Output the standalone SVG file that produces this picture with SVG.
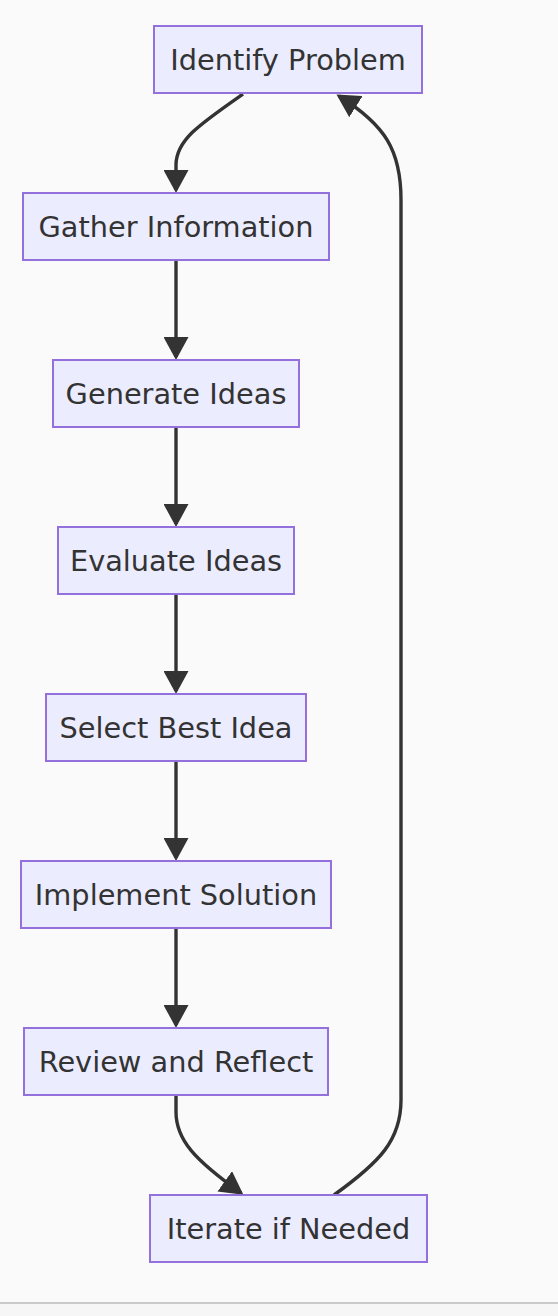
<svg xmlns="http://www.w3.org/2000/svg" width="558" height="1316" viewBox="0 0 558 1316">
<style>
.node rect{fill:#ECECFF;stroke:#9370DB;stroke-width:2}
.node text{font-family:"DejaVu Sans",Verdana,sans-serif;font-size:28.8px;fill:#333333;text-anchor:middle}
.edge{fill:none;stroke:#333333;stroke-width:3.4}
</style>
<defs>
<marker id="arrow" viewBox="0 0 23 25" markerUnits="userSpaceOnUse" markerWidth="23" markerHeight="25" refX="20" refY="12.5" orient="auto">
<path d="M0,0 L23,12.5 L0,25 z" fill="#333333"/>
</marker>
</defs>
<rect x="0" y="0" width="558" height="1316" fill="#fafafa"/>
<rect x="0" y="1304" width="558" height="12" fill="#f6f6f6"/>
<rect x="0" y="1302" width="558" height="2" fill="#cacaca"/>
<g id="connectors">
<path class="edge" d="M243,94 C200,124 176,140 176,165 L176,190" marker-end="url(#arrow)"/>
<path class="edge" d="M176,260 L176,357" marker-end="url(#arrow)"/>
<path class="edge" d="M176,427 L176,524" marker-end="url(#arrow)"/>
<path class="edge" d="M176,594 L176,691" marker-end="url(#arrow)"/>
<path class="edge" d="M176,761 L176,858" marker-end="url(#arrow)"/>
<path class="edge" d="M176,928 L176,1025" marker-end="url(#arrow)"/>
<path class="edge" d="M176,1095 L176,1112 C176,1140 195,1160 241,1193" marker-end="url(#arrow)"/>
<path class="edge" d="M334,1195 C380,1162 401,1140 401,1100 L401,200 C401,150 385,125 339,96" marker-end="url(#arrow)"/>
</g>
<g id="identify" class="node"><rect x="154" y="26" width="268" height="67"/><text x="288" y="69.5">Identify Problem</text></g>
<g id="gather" class="node"><rect x="23" y="193" width="306" height="67"/><text x="176" y="236.5">Gather Information</text></g>
<g id="generate" class="node"><rect x="53" y="360" width="246" height="67"/><text x="176" y="403.5">Generate Ideas</text></g>
<g id="evaluate" class="node"><rect x="58" y="527" width="236" height="67"/><text x="176" y="570.5">Evaluate Ideas</text></g>
<g id="select" class="node"><rect x="46" y="694" width="260" height="67"/><text x="176" y="737.5">Select Best Idea</text></g>
<g id="implement" class="node"><rect x="21" y="861" width="310" height="67"/><text x="176" y="904.5">Implement Solution</text></g>
<g id="review" class="node"><rect x="24" y="1028" width="304" height="67"/><text x="176" y="1071.5">Review and Reflect</text></g>
<g id="iterate" class="node"><rect x="150" y="1195" width="277" height="67"/><text x="288.5" y="1238.5">Iterate if Needed</text></g>
</svg>
